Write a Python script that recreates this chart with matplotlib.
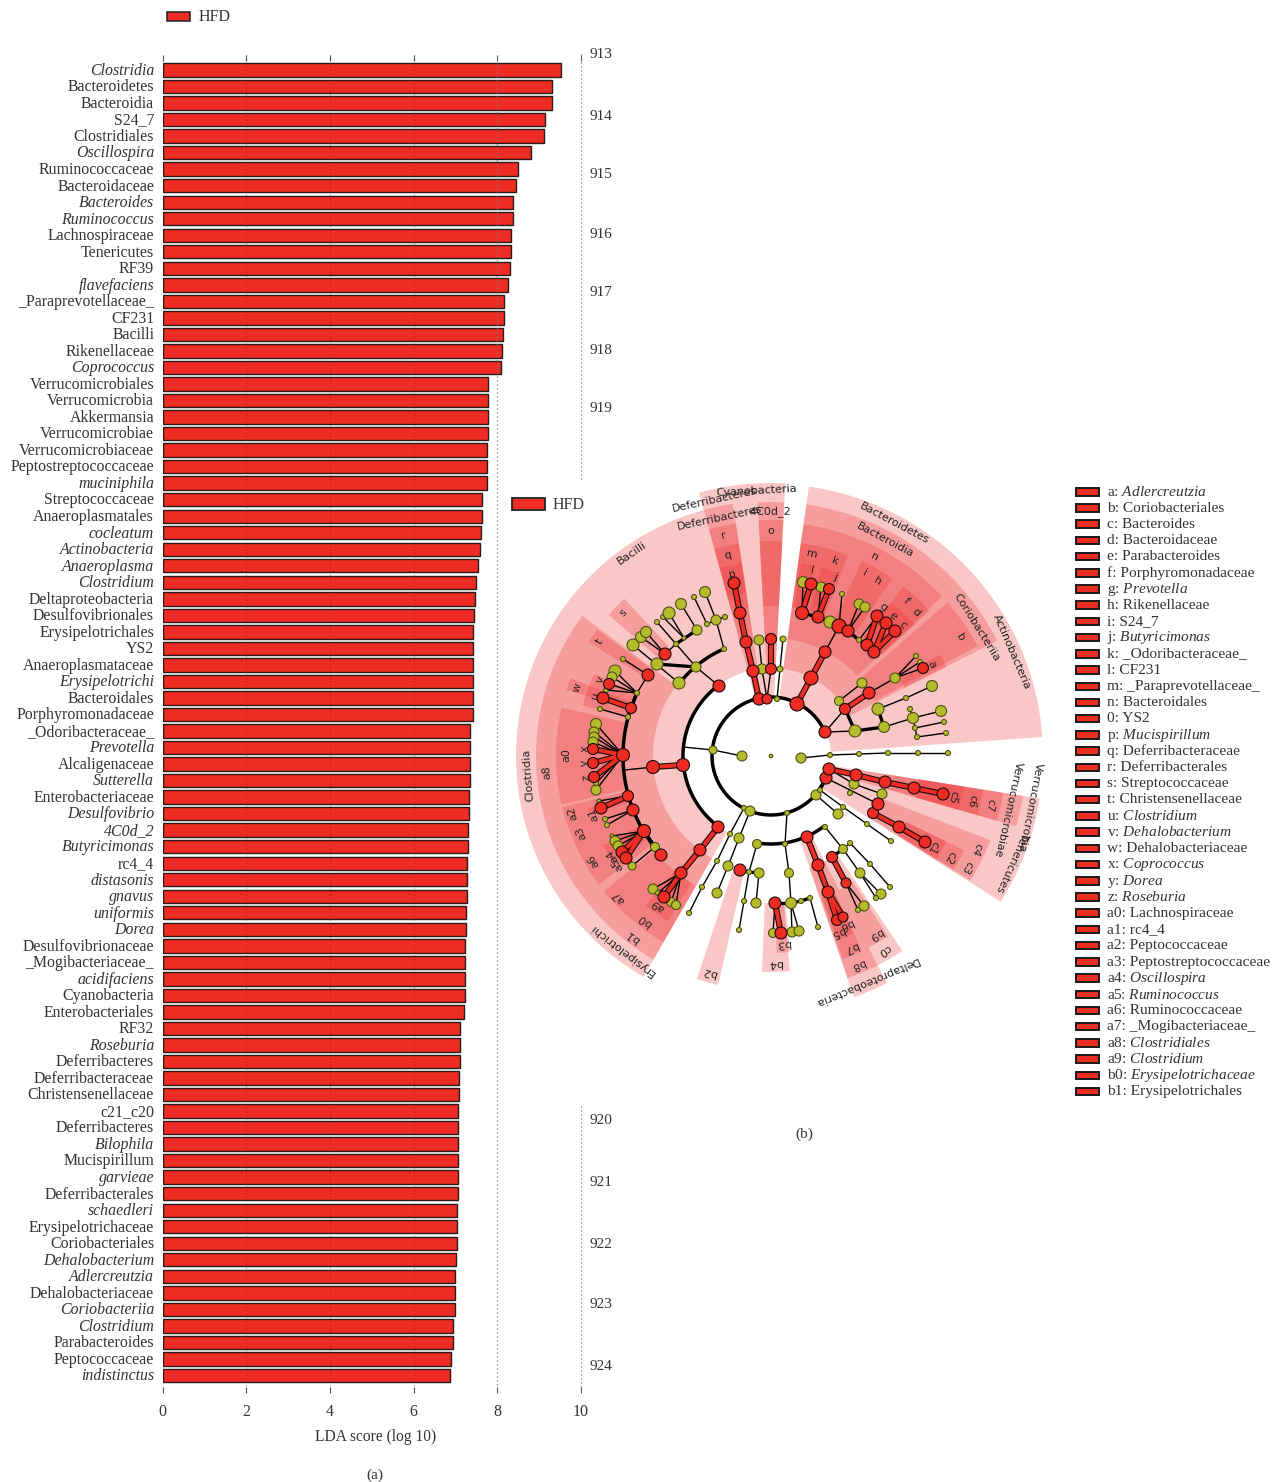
import numpy as np
import matplotlib
matplotlib.use("Agg")
import matplotlib.pyplot as plt
from matplotlib.patches import Wedge, Rectangle
from matplotlib.transforms import ScaledTranslation

plt.rcParams['font.family'] = ['Liberation Serif', 'DejaVu Serif']
plt.rcParams['mathtext.fontset'] = 'custom'
plt.rcParams['mathtext.rm'] = 'Liberation Serif'
plt.rcParams['mathtext.it'] = 'Liberation Serif:italic'

# ---------- panel (a) data ----------
taxa = ["Clostridia","Bacteroidetes","Bacteroidia","S24_7","Clostridiales","Oscillospira","Ruminococcaceae",
 "Bacteroidaceae","Bacteroides","Ruminococcus","Lachnospiraceae","Tenericutes","RF39","flavefaciens",
 "_Paraprevotellaceae_","CF231","Bacilli","Rikenellaceae","Coprococcus","Verrucomicrobiales","Verrucomicrobia",
 "Akkermansia","Verrucomicrobiae","Verrucomicrobiaceae","Peptostreptococcaceae","muciniphila","Streptococcaceae",
 "Anaeroplasmatales","cocleatum","Actinobacteria","Anaeroplasma","Clostridium","Deltaproteobacteria",
 "Desulfovibrionales","Erysipelotrichales","YS2","Anaeroplasmataceae","Erysipelotrichi","Bacteroidales",
 "Porphyromonadaceae","_Odoribacteraceae_","Prevotella","Alcaligenaceae","Sutterella","Enterobacteriaceae",
 "Desulfovibrio","4C0d_2","Butyricimonas","rc4_4","distasonis","gnavus","uniformis","Dorea","Desulfovibrionaceae",
 "_Mogibacteriaceae_","acidifaciens","Cyanobacteria","Enterobacteriales","RF32","Roseburia","Deferribacteres",
 "Deferribacteraceae","Christensenellaceae","c21_c20","Deferribacteres","Bilophila","Mucispirillum","garvieae",
 "Deferribacterales","schaedleri","Erysipelotrichaceae","Coriobacteriales","Dehalobacterium","Adlercreutzia",
 "Dehalobacteriaceae","Coriobacteriia","Clostridium","Parabacteroides","Peptococcaceae","indistinctus"]
lda = [9.52,9.31,9.31,9.14,9.12,8.81,8.49,8.45,8.38,8.38,8.33,8.33,8.30,8.26,8.16,8.16,8.14,8.11,8.09,7.78,
 7.78,7.77,7.77,7.76,7.76,7.76,7.64,7.63,7.61,7.59,7.54,7.49,7.46,7.44,7.43,7.42,7.42,7.42,7.41,7.41,
 7.35,7.34,7.34,7.34,7.33,7.33,7.31,7.30,7.28,7.27,7.27,7.26,7.26,7.24,7.24,7.23,7.22,7.21,7.10,7.10,
 7.10,7.09,7.08,7.07,7.07,7.06,7.06,7.05,7.05,7.04,7.04,7.03,7.01,6.99,6.99,6.98,6.94,6.93,6.89,6.87]
italic_taxa = {"Clostridia","Oscillospira","Bacteroides","Ruminococcus","flavefaciens","Coprococcus","muciniphila",
 "cocleatum","Actinobacteria","Anaeroplasma","Clostridium","Erysipelotrichi","Prevotella","Sutterella","Desulfovibrio",
 "4C0d_2","Butyricimonas","distasonis","gnavus","uniformis","Dorea","acidifaciens","Roseburia","Bilophila","garvieae",
 "schaedleri","Dehalobacterium","Adlercreutzia","Coriobacteriia","indistinctus"}
x_ticks = [0,2,4,6,8,10]
page_numbers_top = ["913","914","915","916","917","918","919"]
page_numbers_bottom = ["920","921","922","923","924"]

# ---------- panel (b) key ----------
key_rows = ["a: $\\mathit{Adlercreutzia}$","b: Coriobacteriales","c: Bacteroides","d: Bacteroidaceae","e: Parabacteroides",
 "f: Porphyromonadaceae","g: $\\mathit{Prevotella}$","h: Rikenellaceae","i: S24_7","j: $\\mathit{Butyricimonas}$",
 "k: _Odoribacteraceae_","l: CF231","m: _Paraprevotellaceae_","n: Bacteroidales","0: YS2","p: $\\mathit{Mucispirillum}$",
 "q: Deferribacteraceae","r: Deferribacterales","s: Streptococcaceae","t: Christensenellaceae","u: $\\mathit{Clostridium}$",
 "v: $\\mathit{Dehalobacterium}$","w: Dehalobacteriaceae","x: $\\mathit{Coprococcus}$","y: $\\mathit{Dorea}$","z: $\\mathit{Roseburia}$",
 "a0: Lachnospiraceae","a1: rc4_4","a2: Peptococcaceae","a3: Peptostreptococcaceae","a4: $\\mathit{Oscillospira}$",
 "a5: $\\mathit{Ruminococcus}$","a6: Ruminococcaceae","a7: _Mogibacteriaceae_","a8: $\\mathit{Clostridiales}$",
 "a9: $\\mathit{Clostridium}$","b0: $\\mathit{Erysipelotrichaceae}$","b1: Erysipelotrichales"]

# ---------- cladogram (centre 771,756; angles in degrees ccw; radii in px) ----------
clade_sectors = [  # first angle, last angle, inner radius, outer radius
 (42,82,60,272),(42,82,88,254),(43,82,118,234),(76,82,150,215),(69,76,150,215),(77,81,150,195),(70,75,150,195),
 (61.5,65,150,215),(55.6,61.5,150,215),(47,52,150,215),(42.5,47,150,215),(48,52,150,195),(45,48,150,195),(42.5,45,150,195),
 (4,42,60,272),(27,42,88,254),(28,41,118,234),(27,31,150,197),
 (98.6,105.3,60,273),(98.6,105.3,88,255),(98.6,105.3,118,235),(98.6,105.3,150,215),(98.6,105.3,165,195),
 (87,98.6,60,273),(87,93,88,254),(87,93,118,236),(87,93,150,215),
 (105.3,143.4,88,255),(133,139,150,215),
 (143.4,226,88,255),(143.4,226,118,235),(167,193,150,215),(144,148,150,215),(158.8,162,150,215),(155,165,150,195),
 (193.8,198.8,150,215),(198.8,204.6,150,215),(204.6,216.7,150,215),(219,226,150,215),(196,198,150,190),(208,214,150,190),
 (226,240,88,255),(226,240,118,235),(226,240,150,215),(230,238,150,195),
 (251.6,257,115,235),(267.6,275,147,216),(271.7,275.5,150,197),
 (289,297,88,255),(289,297,118,235),(289.5,295,150,215),(290,295,150,195),(297,304,118,235),(297,303,150,215),
 (344,351,60,272),(344,351,88,255),(344,351,118,235),(344,351,150,215),(344,351,150,195),
 (327.6,344,60,272),(334,339,118,235),(328,334,118,235),(328,334,150,215),(328,334,150,195),
]
clade_arcs = [(59,24,347),(88,127,233),(88,261,307),(117,113.7,141.6),(148,155,222)]

red_nodes = [(759,699,6),(767,699,5),(753,671,6),(771,669,5.5),(746,642,6),(771,639,5.5),(740,613,6),(734,583,6),
 (797,704,7),(811,678,7),(825,652,6),(839,626,7),(802,613,6.5),(818,617,6),(848,631,6),(811,584,6),(829,589,5.5),
 (867,645,6),(874,652,6),(877,616,6),(886,623,6),(895,631,6),
 (825,732,6),(845,709,5.5),(869,693,6),(923,668,5.5),
 (719,686,6),(665,654,6),(648,675,6),(631,708,5.5),(603,698,6),(609,684,5.5),
 (683,765,6.5),(653,767,6.5),(623,755,6.5),(593,749,5.5),(593,763,5.5),(594,777,5.5),(628,796,5.5),(601,808,6),(633,810,6),
 (644,831,6.5),(622,852,6),(626,858,6),(661,855,6),(718,827,6),(700,850,6),(681,873,6),(664,897,6),(740,870,6),
 (775,903,6),(781,933,6),(807,837,6),(818,865,6),(828,892,6),(837,920,5.5),(843,917,5),(832,857,5.5),(846,883,5),
 (826,778,6),(829,769,6),(856,775,6),(885,782,6),(914,788,6),(943,794,6),(873,813,5.5),(878,804,6),(899,827,6),(925,842,6)]
olive_nodes = [(777,699,2.5),(762,669,5),(759,640,5),(780,669,3),(783,639,3),(830,622,6),(803,582,5.5),(821,587,5),(842,594,2.5),
 (859,604,5),(865,607,5),(859,640,2.5),(855,731,6),(839,701,4.5),(862,683,5),(895,678,5),(916,656,2.5),(920,662,2.5),(932,686,5.5),
 (906,698,2.5),(878,709,6),(884,727,5.5),(913,718,5.5),(910,709,2.5),(941,711,5.5),(944,722,2.5),(915,728,2.5),(946,733,2.5),(917,737,2.5),
 (679,683,6),(657,664,6),(696,667,5),(633,645,6),(641,637,5.5),(646,632,5.5),(676,644,2.5),(684,638,2),(697,630,5),(657,622,2.5),(663,617,2.5),
 (669,613,6),(681,604,5.5),(694,597,2.5),(705,592,5.5),(707,624,2.5),(716,620,5),(725,617,2.5),(724,649,2.5),
 (637,693,2.5),(628,717,2.5),(615,671,6),(612,677,5),(606,690,2.5),(623,659,2.5),(600,709,2.5),
 (596,790,5),(596,724,5.5),(594,732,5),(594,737,5),(593,742,5),(596,783,2.5),(599,801,2),(605,819,2.5),(607,825,2.5),
 (612,836,2),(615,841,5),(618,846,5),(632,866,4),(655,847,4.5),(653,889,5),(658,893,2.5),(671,902,4.5),(676,905,4.5),
 (744,808,2.5),(750,811,5),(730,834,2.5),(717,861,2.5),(702,887,2.5),(689,913,2.5),(739,838,5),(728,866,5),(717,893,5),
 (749,872,2.5),(759,873,5),(757,844,4.5),(744,901,2.5),(739,930,2.5),(756,903,5),(787,813,2.5),(785,844,2.5),(789,873,4.5),(791,903,5.5),
 (773,933,4.5),(792,932,5),(799,931,5),(801,901,2.5),(810,898,2.5),(818,927,2.5),
 (825,827,2.5),(843,849,4.5),(850,843,2.5),(870,864,2.5),(890,887,2.5),(860,873,5),(881,894,5),(876,898,2.5),(864,906,5),(858,910,2.5),
 (816,795,5),(820,790,2.5),(854,784,5),(850,793,2.5),(882,794,5),(838,814,5),(843,807,2.5),(867,824,2.5),(891,841,2.5),
 (713,750,4),(742,756,5),(771,756,1.8),(801,758,5),(830,755,2.5),(859,754,2.5),(888,753,2.5),(918,753,2.5),(948,753,2.5)]
red_links = [((759,699),(753,671)),((753,671),(746,642)),((746,642),(740,613)),((740,613),(734,583)),((771,669),(771,639)),
 ((797,704),(811,678)),((811,678),(825,652)),((802,613),(811,584)),((818,617),(829,589)),((867,645),(877,616)),((874,652),(886,623)),((874,652),(895,631)),
 ((845,709),(869,693)),((683,765),(653,767)),((631,708),(603,698)),((623,755),(593,749)),((623,755),(593,763)),((623,755),(594,777)),
 ((628,796),(601,808)),((644,831),(622,852)),((644,831),(626,858)),((718,827),(700,850)),((700,850),(681,873)),((681,873),(664,897)),
 ((775,903),(781,933)),((807,837),(818,865)),((818,865),(828,892)),((828,892),(837,920)),((828,892),(843,917)),((832,857),(846,883)),
 ((829,769),(856,775)),((856,775),(885,782)),((885,782),(914,788)),((914,788),(943,794)),((878,804),(873,813)),((873,813),(899,827)),((899,827),(925,842))]
bold_links = [((839,626),(848,631)),((839,626),(830,622)),((830,622),(818,617)),((818,617),(802,613)),((848,631),(859,640)),((859,640),(867,645)),((867,645),(874,652)),
 ((845,709),(855,731)),((884,727),(878,709)),((855,731),(884,727)),((676,644),(697,630)),((644,831),(655,847)),((655,847),(661,855)),
 ((749,872),(740,870)),((749,872),(759,873)),((775,903),(791,903)),((791,903),(801,901)),((801,901),(810,898)),((843,849),(832,857)),
 ((826,778),(816,795)),((826,778),(829,769)),((637,693),(631,708)),((631,708),(628,717)),((696,667),(657,664))]
thin_links = [((713,750),(742,756)),((683,747),(713,750)),((801,758),(830,755)),((830,755),(859,754)),((859,754),(888,753)),((888,753),(918,753)),((918,753),(948,753)),
 ((767,699),(771,669)),((767,699),(762,669)),((762,669),(759,640)),((777,699),(780,669)),((780,669),(783,639)),
 ((825,652),(839,626)),((802,613),(803,582)),((818,617),(821,587)),((839,626),(842,594)),((848,631),(859,604)),((848,631),(865,607)),((859,640),(877,616)),
 ((825,732),(845,709)),((825,732),(855,731)),((845,709),(839,701)),((839,701),(862,683)),((869,693),(895,678)),((895,678),(923,668)),((895,678),(916,656)),((895,678),(920,662)),
 ((878,709),(906,698)),((906,698),(932,686)),((884,727),(913,718)),((913,718),(910,709)),((913,718),(941,711)),((913,718),(915,728)),((915,728),(944,722)),((915,728),(917,737)),((917,737),(946,733)),
 ((719,686),(696,667)),((679,683),(633,645)),((696,667),(676,644)),((676,644),(665,654)),((665,654),(641,637)),((665,654),(646,632)),((676,644),(657,622)),((684,638),(663,617)),((684,638),(669,613)),
 ((697,630),(681,604)),((724,649),(716,620)),((716,620),(705,592)),((716,620),(707,624)),((716,620),(725,617)),((707,624),(694,597)),
 ((648,675),(637,693)),((637,693),(615,671)),((637,693),(612,677)),((637,693),(609,684)),((637,693),(606,690)),((623,659),(648,675)),((600,709),(628,717)),
 ((653,767),(625,770)),((623,755),(596,724)),((623,755),(594,732)),((623,755),(594,737)),((623,755),(593,742)),((623,755),(596,783)),((623,755),(596,790)),
 ((628,796),(599,801)),((633,810),(605,819)),((633,810),(607,825)),((644,831),(612,836)),((644,831),(615,841)),((644,831),(618,846)),((632,866),(655,847)),
 ((681,873),(653,889)),((681,873),(658,893)),((681,873),(671,902)),((681,873),(676,905)),
 ((744,808),(730,834)),((730,834),(717,861)),((717,861),(702,887)),((702,887),(689,913)),((750,811),(739,838)),((739,838),(728,866)),((728,866),(717,893)),
 ((757,844),(749,872)),((749,872),(744,901)),((744,901),(739,930)),((759,873),(756,903)),((787,813),(785,844)),((785,844),(789,873)),((789,873),(791,903)),
 ((775,903),(773,933)),((791,903),(792,932)),((791,903),(799,931)),((810,898),(818,927)),
 ((825,827),(843,849)),((843,849),(850,843)),((850,843),(870,864)),((870,864),(890,887)),((843,849),(860,873)),((860,873),(881,894)),((860,873),(876,898)),((846,883),(864,906)),((846,883),(858,910)),
 ((826,778),(878,804)),((829,769),(854,784)),((854,784),(882,794)),((816,795),(838,814)),((820,790),(843,807)),((843,807),(867,824)),((867,824),(891,841))]
clade_names = [("Bacteroidetes",894,523),("Bacteroidia",885,540),("m",812,554),("k",835,561),("n",875,557),("l",812,570),("j",835,577),("i",865,573),("h",878,581),
 ("g",883,607),("e",893,616),("c",903,625),("f",906,601),("d",916,612),("Actinobacteria",1012,652),("Coriobacteriia",977,627),("b",960,637),("a",932,665),
 ("Deferribacteres",715,500),("Deferribacteres",720,518),("Cyanobacteria",757,491),("4C0d_2",770,511),("o",771,531),("r",724,536),("q",728,555),("p",732,574),
 ("Bacilli",632,553),("s",623,613),("t",599,642),("w",577,688),("v",600,680),("u",595,696),("x",585,749),("y",585,763),("z",586,777),
 ("Clostridia",528,775),("a8",547,772),("a0",566,755),("a2",573,813),("a1",593,814),("a3",581,833),("a6",593,861),("a4",612,856),("a5",617,864),("a7",618,897),
 ("a9",658,905),("b0",645,920),("b1",633,936),("Erysipelotrichi",622,950),("b2",709,972),("b3",783,943),("b4",775,963),
 ("b8",858,964),("b7",851,947),("b6",846,925),("b5",837,932),("b9",875,934),("c0",884,950),("Deltaproteobacteria",866,981),
 ("c5",953,797),("c6",972,801),("c7",990,805),("c4",976,849),("c3",967,867),("c2",950,857),("c1",933,847),
 ("Verrucomicrobia",1030,807),("Verrucomicrobiae",1008,809),("Tenericutes",1012,862)]

RED = '#ee2c24'
OLIVE = '#b4bc2c'
INK = '#333333'
W, H = 1283, 1482
CX, CY = 771, 756

def frame(left, top, right, bottom):
    return [left / W, 1 - bottom / H, (right - left) / W, (bottom - top) / H]

fig = plt.figure(figsize=(W / 100, H / 100), dpi=100, facecolor='white')

# ---------- (a) LDA bars ----------
ax = fig.add_axes(frame(162.5, 54.5, 581, 1392.5))
pos = np.arange(len(taxa))
ax.barh(pos, lda, height=0.81, color=RED, edgecolor='#2a1a1a', linewidth=1.0, zorder=2)
ax.set_xlim(0, 10)
ax.set_ylim(len(taxa) - 1 + 1.03, -0.94)
for s in ax.spines.values():
    s.set_visible(False)
ax.set_yticks(pos, taxa)
ax.tick_params(axis='y', length=0, pad=6, labelsize=11.4, labelcolor=INK)
lift = ScaledTranslation(0, 1.2 / 100, fig.dpi_scale_trans)
for lab, name in zip(ax.get_yticklabels(), taxa):
    lab.set_transform(lab.get_transform() + lift)
    if name in italic_taxa:
        lab.set_fontstyle('italic')
ax.set_xticks(x_ticks)
ax.tick_params(axis='x', direction='in', length=4.5, width=0.8, color='#555555', top=True, bottom=True,
               pad=8.5, labelsize=11.4, labelcolor=INK)
ax.set_xlabel("LDA score (log 10)", fontsize=11.2, color=INK, labelpad=6.5, x=0.508)
for v in x_ticks[1:4]:
    ax.axvline(v, color='#5a2020', ls=(0, (1, 2.2)), lw=0.8, alpha=0.45, zorder=3)
ax.axvline(8, color='#777777', ls=(0, (1, 2.2)), lw=0.9, zorder=3)
ax.plot([10, 10], [-0.94, 24.95], color='#777777', ls=(0, (1, 2.2)), lw=0.9, clip_on=False)
ax.plot([10, 10], [62.7, 80.03], color='#777777', ls=(0, (1, 2.2)), lw=0.9, clip_on=False)

# ---------- page-level annotations ----------
page = fig.add_axes([0, 0, 1, 1], facecolor='none')
page.set_xlim(0, W)
page.set_ylim(H, 0)
page.axis('off')
for name, y in zip(page_numbers_top, [55, 117, 175, 234, 293, 351, 409]):
    page.text(590, y, name, fontsize=11, color=INK, va='center', ha='left')
for name, y in zip(page_numbers_bottom, [1121, 1183, 1245, 1305, 1367]):
    page.text(590, y, name, fontsize=11, color=INK, va='center', ha='left')
page.text(375, 1475, "(a)", fontsize=11, color=INK, ha='center', va='center')
page.text(804, 1134, "(b)", fontsize=11, color=INK, ha='center', va='center')
page.add_patch(Rectangle((167, 12), 23, 9, fc=RED, ec='#222222', lw=1.1))
page.text(199, 17, "HFD", fontsize=11.5, color=INK, va='center', ha='left')
page.add_patch(Rectangle((512, 498), 33, 12, fc=RED, ec='#222222', lw=1.3))
page.text(553, 505, "HFD", fontsize=11.5, color=INK, va='center', ha='left')
for i, row in enumerate(key_rows):
    y = 491.5 + i * 16.21
    page.add_patch(Rectangle((1076, y - 3.5), 23, 7.5, fc=RED, ec='#1a1a1a', lw=1.4))
    page.text(1107, y + 0.5, row, fontsize=11.1, color=INK, va='center', ha='left')

# ---------- (b) cladogram ----------
cl = fig.add_axes(frame(500, 470, 1060, 1010), facecolor='none')
cl.set_xlim(500, 1060)
cl.set_ylim(1010, 470)
cl.axis('off')
for t1, t2, r0, r1 in clade_sectors:
    cl.add_patch(Wedge((CX, CY), r1, -t2, -t1, width=r1 - r0, facecolor='#ee3030', alpha=0.27, edgecolor='none', zorder=1))
for r, a1, a2 in clade_arcs:
    th = np.radians(np.arange(a1, a2 + 0.5, 1.0))
    cl.plot(CX + r * np.cos(th), CY - r * np.sin(th), color='black', lw=2.5, zorder=3, solid_capstyle='round')
for (a, b) in thin_links:
    cl.plot([a[0], b[0]], [a[1], b[1]], color='black', lw=1.0, zorder=3)
for (a, b) in bold_links:
    cl.plot([a[0], b[0]], [a[1], b[1]], color='black', lw=2.4, zorder=3)
for (a, b) in red_links:
    cl.plot([a[0], b[0]], [a[1], b[1]], color='#1a0a0a', lw=4.4, zorder=3, solid_capstyle='butt')
    cl.plot([a[0], b[0]], [a[1], b[1]], color=RED, lw=2.8, zorder=3.1, solid_capstyle='butt')
for nodes, col, ec, z in [(olive_nodes, OLIVE, '#4f5014', 4), (red_nodes, RED, '#1a0a0a', 5)]:
    arr = np.array(nodes, dtype=float)
    cl.scatter(arr[:, 0], arr[:, 1], s=(2 * arr[:, 2] * 0.72) ** 2, c=col, edgecolors=ec, linewidths=0.8, zorder=z)
for name, x, y in clade_names:
    rot = np.degrees(np.arctan2(CY - y, x - CX)) - 90
    cl.text(x, y, name, family='DejaVu Sans', fontsize=8.0, color='#222222', rotation=rot, rotation_mode='anchor',
            ha='center', va='center', zorder=6)

fig.savefig("out.png", dpi=100)
